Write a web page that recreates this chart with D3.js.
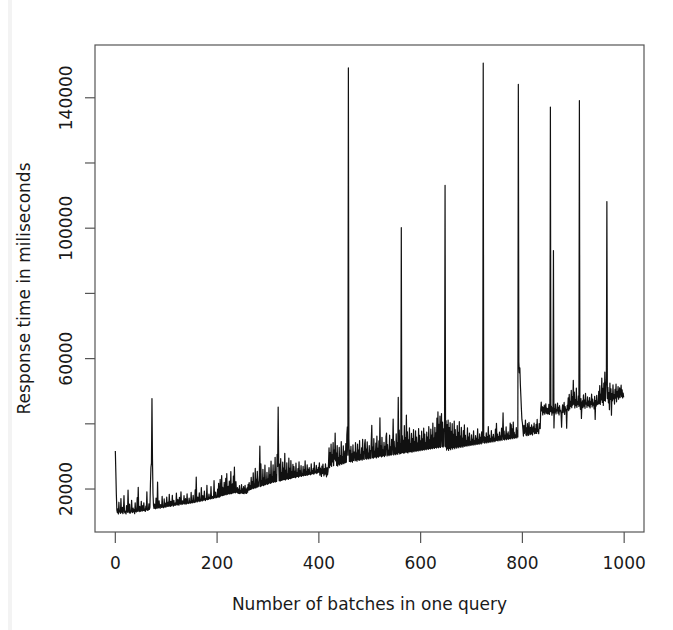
<!DOCTYPE html>
<html>
<head>
<meta charset="utf-8">
<script src="https://cdn.jsdelivr.net/npm/d3@7"></script>
<style>
  html, body { margin: 0; padding: 0; background: #fff; }
  svg { display: block; }
</style>
</head>
<body>
<svg id="chart" width="673" height="630"></svg>
<script>
// Response time (ms) for query sizes 1..1000 batches
const responseTime = [
31500,25000,18200,13400,12600,13800,12200,15800,12800,13200,
12400,16900,13000,12600,14200,12300,13600,17800,12900,12500,
13100,12200,14800,13000,12700,19500,13300,12600,15200,12400,
13000,12800,16400,13200,12600,14000,12900,13500,12300,15600,
13100,12800,13400,17200,13000,20400,13600,12900,14500,13200,
13000,16100,13400,13100,14800,13300,15600,13200,13700,13000,
14600,13500,19000,13300,13900,13400,15300,13600,14200,21500,
26500,27800,47600,29000,18500,14800,13900,15200,14000,13800,
17100,14200,13900,22000,14300,14100,16200,14400,13900,15100,
14600,14200,17600,14300,14500,14100,16800,14600,14300,15500,
14400,17400,14700,14500,15800,14600,18200,14800,14500,16100,
14700,15000,17900,14900,14600,16400,15100,14800,15600,14900,
18600,15200,15000,16700,15100,14900,17300,15300,15200,19000,
15400,15100,16200,15300,15500,17800,15400,15200,16900,15600,
15300,18400,15500,15700,15400,17100,15600,15900,15500,18800,
15700,16300,15600,17900,15800,16000,15700,19600,15900,23500,
16200,15900,17400,16100,16300,18700,16000,16400,16200,20300,
16500,16200,17800,16400,16600,19200,16500,16300,17000,16700,
21000,16600,16900,16700,18300,16900,17100,16800,20600,17000,
16900,17600,17200,17000,22400,17300,17100,18900,17400,17200,
17500,19800,17300,21600,17600,17400,22800,17700,18000,24000,
17800,20400,17900,18200,21900,18000,18300,23100,18100,24600,
18400,18200,20700,18500,22300,18300,18600,25200,18400,18800,
21400,18600,23800,18700,26600,18900,18700,22100,19000,18800,
20300,18600,19800,18500,20900,18400,19400,18700,21200,18600,
19900,18500,20600,18400,19100,21000,18600,19800,18500,20200,
18900,21300,19500,21800,19600,20800,19700,23400,19900,22100,
20100,24800,20000,21300,20300,26200,20200,22800,20400,25300,
20500,21900,20700,24100,33000,20600,27600,20800,22400,21000,
25900,20900,23300,21100,27200,21200,22600,21400,25000,21300,
22900,21500,26400,21700,24200,21600,28400,21800,23500,22000,
27300,21900,25100,22100,29600,22000,24300,22200,30500,26800,
45000,28700,22400,27500,22300,29200,22500,24900,22600,28100,
22700,26300,22800,30800,22600,25600,22900,27900,23000,24400,
22800,29300,23100,26200,23000,28600,23200,25100,23300,27400,
23400,26700,23500,25300,23300,27800,23600,24800,23700,26100,
23500,28200,23800,25400,23900,27000,23700,24600,24000,26800,
23900,25700,24100,28500,24000,25100,24200,27300,24100,25900,
24300,26400,24400,24900,24200,27600,24500,25500,24600,26200,
24400,28000,24700,25300,24800,27100,24600,25800,24900,26500,
25000,27900,24100,26300,25400,23700,26900,24600,27500,25200,
23900,26100,24400,27600,25000,23600,26400,24200,25300,27800,
32500,26400,31000,27200,33600,26800,30400,28200,34100,27000,
31800,29000,37000,28500,30900,27100,33200,26900,29400,27500,
32600,27200,30100,27700,34400,27400,29700,27800,33100,27600,
28000,31500,27900,33800,28100,36500,38900,30200,149000,35200,
28300,31700,28200,32900,28400,30600,28100,33400,28600,31200,
31200,28500,34100,28700,30900,28400,33600,28900,31800,28600,
34700,28800,30400,29000,32500,28700,35100,29100,31300,28900,
33700,35000,29200,32100,29000,34300,29300,30800,29100,33200,
29400,31600,29200,34800,39400,29500,32700,29300,35300,29600,
31400,29700,33900,29400,36100,29800,32300,29600,34600,29900,
41700,30000,33100,29700,35700,29900,31800,30100,34200,29800,
32900,30200,35900,37000,30000,33500,30300,31700,30100,36400,
30400,32800,30200,35100,30500,33300,41300,30300,34500,30600,
32400,30400,36800,30700,34100,30500,48000,31000,37900,30600,
33800,30800,100000,30900,36200,31100,34800,30800,39300,31000,
35600,31200,42500,31100,37400,30900,34900,31300,38600,31200,
33700,31400,36900,31100,35300,31500,38100,31300,34400,31600,
37700,31400,35800,31700,33900,31500,38400,31800,36300,31600,
34600,31900,37600,31700,35200,32000,38500,31800,36700,32100,
34000,31900,37300,32200,35800,32000,39000,32300,34900,32100,
38200,32400,36400,32200,40100,32500,35500,32300,38800,32600,
37100,32400,41600,32700,43500,32500,39700,32800,42200,32600,
36900,43000,32900,40400,32700,38300,33000,41100,113000,32800,
40800,31800,39600,32200,41000,31700,38700,32300,40200,31900,
37500,32500,39900,32100,36600,32600,40700,32200,38100,32700,
35900,32400,39300,32800,37200,32500,40500,32900,36100,32600,
38800,33000,35400,32700,37800,33100,39500,32900,36300,33200,
34700,33000,38600,33300,35800,33100,37000,33400,34300,33200,
36500,33500,35100,33300,37700,33600,34600,33400,36200,33700,
35400,33500,38300,33800,34900,33600,36800,33900,35700,33700,
37400,34000,35200,150500,34100,36000,33900,35600,34200,37100,
34000,35900,34300,39000,34100,36400,34400,35300,34200,37800,
34500,35800,34300,36600,34600,35400,34400,38200,34700,40000,
34800,36700,34600,35900,34900,37300,34700,36100,35000,38500,
34800,36900,43200,35100,37600,34900,36300,35200,38900,35000,
36800,35300,37400,35100,36200,35400,40100,35200,39600,35500,
38300,35300,40400,35600,37200,35400,36500,35700,38700,35500,
37900,35800,144000,58800,55500,57000,51800,48300,44500,41200,
40100,38200,36100,39400,36900,37800,41000,36400,38600,36200,
39900,37000,36300,40300,37600,36500,38800,36700,39500,37200,
36400,38900,37400,40100,36800,38300,37000,39700,36900,41200,
37500,38100,36800,39900,38600,38400,44200,46500,43800,45100,
42600,44900,43300,45600,42800,44300,46000,43100,44700,42900,
44500,43000,45800,42700,44100,137000,43600,45300,42500,44800,
43200,93000,38600,44600,43400,45900,42900,44200,43800,46200,
43100,44900,42600,45400,43700,44000,42800,38800,43900,45700,
43300,44600,46400,42700,45100,43800,44300,38500,45500,44200,
47800,43900,48900,44400,46700,45200,50100,44800,48200,45600,
53200,45900,49600,44700,47300,45400,50800,44900,46500,45800,
48400,45200,139000,46100,44300,47600,41500,45700,46900,44800,
48700,45300,47100,44600,49200,45900,46300,44900,48100,45500,
46800,45100,47900,44700,46600,45800,49000,45000,47400,45600,
46200,44400,48300,41200,47000,45300,48600,45700,46400,45900,
49800,46100,51600,45800,48900,47200,53900,46400,50700,45500,
52300,47000,55700,46800,50200,53400,108000,47600,51000,46300,
49400,44200,52300,47300,50600,42500,49100,46900,51800,47500,
48800,45900,50400,47700,52000,46600,49700,48100,51300,47400,
48500,50900,47900,49600,51700,48200,50300,47800,49300,48000
];
const batchCount = d3.range(1, responseTime.length + 1); // 1..1000
const xTicks = [0, 200, 400, 600, 800, 1000];
const yTicks = [20000, 40000, 60000, 80000, 100000, 120000, 140000];
const yTickLabels = ["20000", "60000", "100000", "140000"];
const xTitle = "Number of batches in one query";
const yTitle = "Response time in miliseconds";

const W = 673, H = 630;
const plot = { left: 95, right: 644, top: 45, bottom: 532 };
const FONT = "'DejaVu Sans', sans-serif";

const svg = d3.select("#chart");
svg.append("rect").attr("width", W).attr("height", H).attr("fill", "#fff");
svg.append("rect").attr("x", 8).attr("y", 0).attr("width", 4).attr("height", H).attr("fill", "#f3f3f3");

// R-style 4% padding of ranges
const xExt = d3.extent(batchCount), yExt = d3.extent(responseTime);
const xPad = (xExt[1] - xExt[0]) * 0.04, yPad = (yExt[1] - yExt[0]) * 0.04;
const x = d3.scaleLinear().domain([xExt[0] - xPad, xExt[1] + xPad]).range([plot.left, plot.right]);
const y = d3.scaleLinear().domain([yExt[0] - yPad, yExt[1] + yPad]).range([plot.bottom, plot.top]);

const line = d3.line().x((d, i) => x(batchCount[i])).y(d => y(d));
svg.append("path")
  .datum(responseTime)
  .attr("d", line)
  .attr("fill", "none")
  .attr("stroke", "#111")
  .attr("stroke-width", 1.2)
  .attr("stroke-linejoin", "round");

// box
svg.append("rect")
  .attr("x", plot.left).attr("y", plot.top)
  .attr("width", plot.right - plot.left).attr("height", plot.bottom - plot.top)
  .attr("fill", "none").attr("stroke", "#555").attr("stroke-width", 1.2);

// x axis
const gx = svg.append("g")
  .attr("transform", `translate(0,${plot.bottom})`)
  .call(d3.axisBottom(x).tickValues(xTicks).tickFormat(d3.format("d")).tickSize(11).tickSizeOuter(0).tickPadding(14));
gx.select(".domain").remove();
gx.selectAll(".tick line").attr("stroke", "#555").attr("stroke-width", 1.2);
gx.selectAll(".tick text").attr("font-family", FONT).attr("font-size", 17).attr("fill", "#1a1a1a");

// y axis
const gy = svg.append("g")
  .attr("transform", `translate(${plot.left},0)`)
  .call(d3.axisLeft(y).tickValues(yTicks)
    .tickFormat(d => yTickLabels.includes(String(d)) ? String(d) : "")
    .tickSize(10).tickSizeOuter(0));
gy.select(".domain").remove();
gy.selectAll(".tick line").attr("stroke", "#555").attr("stroke-width", 1.2);
gy.selectAll(".tick text")
  .attr("x", null).attr("dy", null).attr("y", null)
  .attr("transform", "translate(-23.5,0) rotate(-90)")
  .attr("text-anchor", "middle")
  .attr("font-family", FONT).attr("font-size", 17).attr("fill", "#1a1a1a");

// titles
svg.append("text")
  .attr("x", (plot.left + plot.right) / 2).attr("y", 610)
  .attr("text-anchor", "middle")
  .attr("font-family", FONT).attr("font-size", 17).attr("fill", "#1a1a1a")
  .text(xTitle);
svg.append("text")
  .attr("transform", `translate(30,${(plot.top + plot.bottom) / 2}) rotate(-90)`)
  .attr("text-anchor", "middle")
  .attr("font-family", FONT).attr("font-size", 17).attr("fill", "#1a1a1a")
  .text(yTitle);
</script>
</body>
</html>
